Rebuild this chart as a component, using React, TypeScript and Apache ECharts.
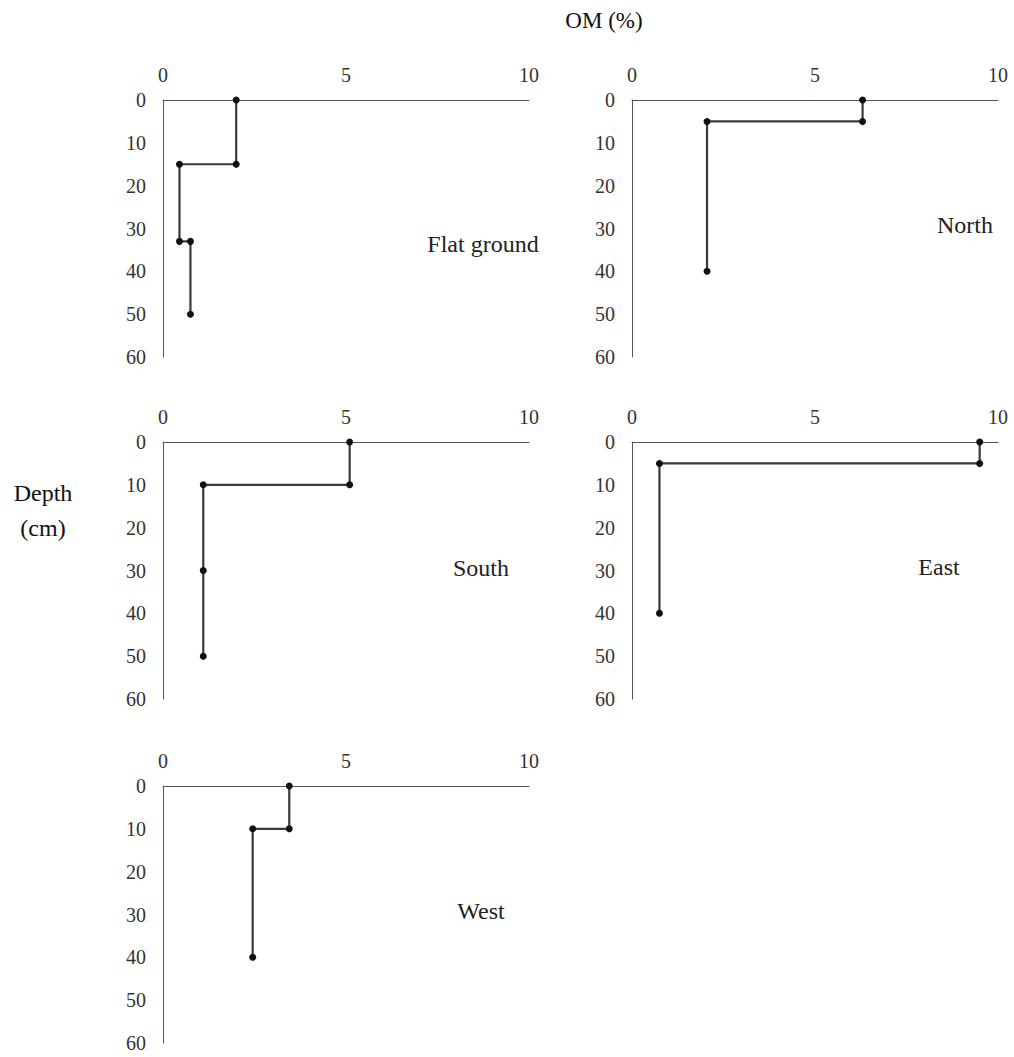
import React, { useEffect, useRef } from "react";
import * as echarts from "echarts";

// OM (%) and depth (cm) step profiles
const siteNames = ["Flat ground", "North", "South", "East", "West"];
const flatOM = [2.0, 2.0, 0.45, 0.45, 0.75, 0.75];
const flatDepth = [0, 15, 15, 33, 33, 50];
const northOM = [6.3, 6.3, 2.05, 2.05];
const northDepth = [0, 5, 5, 40];
const southOM = [5.1, 5.1, 1.1, 1.1, 1.1];
const southDepth = [0, 10, 10, 30, 50];
const eastOM = [9.5, 9.5, 0.75, 0.75];
const eastDepth = [0, 5, 5, 40];
const westOM = [3.45, 3.45, 2.45, 2.45];
const westDepth = [0, 10, 10, 40];
const omTicks = [0, 5, 10];
const depthTicks = [0, 10, 20, 30, 40, 50, 60];

const FONT = "Liberation Serif";

export default function App() {
  const ref = useRef<HTMLDivElement>(null);
  useEffect(() => {
    if (!ref.current) return;
    const chart = echarts.init(ref.current, undefined, { renderer: "svg" });
    const profiles = [
      [flatOM, flatDepth],
      [northOM, northDepth],
      [southOM, southDepth],
      [eastOM, eastDepth],
      [westOM, westDepth],
    ];
    const grids = [
      { left: 163, top: 100, width: 366, height: 257 },
      { left: 632, top: 100, width: 366, height: 257 },
      { left: 163, top: 442, width: 366, height: 257 },
      { left: 632, top: 442, width: 366, height: 257 },
      { left: 163, top: 786, width: 366, height: 257 },
    ];
    const labelPos = [
      [483, 244],
      [965, 225],
      [481, 568],
      [939, 567],
      [481, 911],
    ];
    const axisLine = { show: true, onZero: false, lineStyle: { color: "#555", width: 1 } };
    const xAxis = grids.map((_, i) => ({
      type: "value",
      gridIndex: i,
      position: "top",
      min: omTicks[0],
      max: omTicks[omTicks.length - 1],
      interval: omTicks[1] - omTicks[0],
      axisLine,
      axisTick: { show: false },
      splitLine: { show: false },
      axisLabel: { fontFamily: FONT, fontSize: 20, color: "#333", margin: 15 },
    }));
    const yAxis = grids.map((_, i) => ({
      type: "value",
      gridIndex: i,
      position: "left",
      inverse: true,
      min: depthTicks[0],
      max: depthTicks[depthTicks.length - 1],
      interval: depthTicks[1] - depthTicks[0],
      axisLine,
      axisTick: { show: false },
      splitLine: { show: false },
      axisLabel: { fontFamily: FONT, fontSize: 20, color: "#333", margin: 17 },
    }));
    const series = profiles.map(([om, depth], i) => ({
      type: "line",
      name: siteNames[i],
      xAxisIndex: i,
      yAxisIndex: i,
      data: om.map((v, k) => [v, depth[k]]),
      symbol: "circle",
      symbolSize: 7,
      showSymbol: true,
      itemStyle: { color: "#111" },
      lineStyle: { color: "#3a3a3a", width: 2.2 },
    }));
    const graphic: any[] = siteNames.map((name, i) => ({
      type: "text",
      x: labelPos[i][0],
      y: labelPos[i][1],
      style: {
        text: name,
        fontFamily: FONT,
        fontSize: 24,
        fill: "#222",
        align: "center",
        verticalAlign: "middle",
      },
    }));
    graphic.push(
      {
        type: "text",
        x: 604,
        y: 20,
        style: { text: "OM (%)", fontFamily: FONT, fontSize: 23, fill: "#111", align: "center", verticalAlign: "middle" },
      },
      {
        type: "text",
        x: 43,
        y: 493,
        style: { text: "Depth", fontFamily: FONT, fontSize: 24, fill: "#111", align: "center", verticalAlign: "middle" },
      },
      {
        type: "text",
        x: 43,
        y: 528,
        style: { text: "(cm)", fontFamily: FONT, fontSize: 24, fill: "#111", align: "center", verticalAlign: "middle" },
      }
    );
    chart.setOption({
      animation: false,
      backgroundColor: "#fff",
      grid: grids,
      xAxis,
      yAxis,
      series,
      graphic,
    });
    return () => chart.dispose();
  }, []);
  return (
    <div
      ref={ref}
      style={{ position: "absolute", left: 0, top: 0, width: 1014, height: 1057 }}
    />
  );
}
